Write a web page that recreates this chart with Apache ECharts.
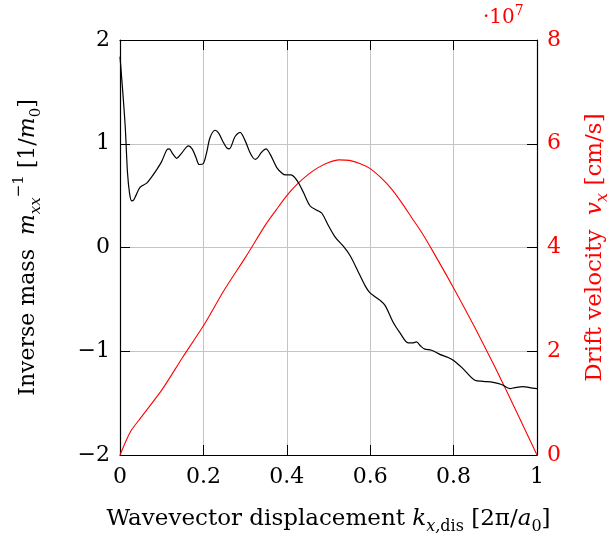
<!DOCTYPE html>
<html>
<head>
<meta charset="utf-8">
<script src="https://cdn.jsdelivr.net/npm/echarts@6/dist/echarts.min.js"></script>
<style>
  html, body { margin: 0; padding: 0; background: #fff; }
  #main { width: 614px; height: 536px; }
</style>
</head>
<body>
<div id="main"></div>
<script>
// wavevector displacement k_x,dis [2pi/a0] and inverse mass m_xx^-1 [1/m0]
const kMass = [0, 0.012, 0.018, 0.023, 0.028, 0.033, 0.038, 0.048, 0.064, 0.076, 0.088, 0.1, 0.112, 0.118, 0.127, 0.136, 0.148, 0.164, 0.173, 0.182, 0.19, 0.2, 0.208, 0.216, 0.228, 0.237, 0.247, 0.256, 0.262, 0.276, 0.288, 0.3, 0.31, 0.318, 0.325, 0.34, 0.35, 0.36, 0.376, 0.39, 0.398, 0.41, 0.42, 0.43, 0.44, 0.456, 0.472, 0.484, 0.5, 0.516, 0.536, 0.552, 0.572, 0.588, 0.598, 0.61, 0.624, 0.636, 0.655, 0.671, 0.691, 0.701, 0.711, 0.721, 0.731, 0.747, 0.767, 0.787, 0.8, 0.823, 0.851, 0.871, 0.895, 0.915, 0.935, 0.947, 0.967, 0.982, 1.0]
const inverseMass = [1.84, 1.2, 0.72, 0.52, 0.45, 0.46, 0.5, 0.58, 0.62, 0.68, 0.75, 0.83, 0.94, 0.95, 0.9, 0.86, 0.91, 0.98, 0.95, 0.87, 0.8, 0.81, 0.92, 1.06, 1.13, 1.1, 1.02, 0.96, 0.95, 1.07, 1.11, 1.03, 0.93, 0.87, 0.85, 0.92, 0.95, 0.9, 0.77, 0.71, 0.7, 0.7, 0.67, 0.61, 0.53, 0.4, 0.36, 0.33, 0.21, 0.1, 0.01, -0.08, -0.24, -0.37, -0.43, -0.47, -0.51, -0.56, -0.72, -0.82, -0.92, -0.92, -0.91, -0.95, -0.98, -0.99, -1.03, -1.06, -1.09, -1.17, -1.28, -1.29, -1.3, -1.32, -1.36, -1.35, -1.34, -1.35, -1.36]

// drift velocity v_x [cm/s]
const kVel = [0, 0.025, 0.05, 0.1, 0.15, 0.2, 0.25, 0.3, 0.35, 0.375, 0.4, 0.425, 0.45, 0.475, 0.5, 0.525, 0.55, 0.575, 0.6, 0.625, 0.65, 0.675, 0.7, 0.725, 0.75, 0.8, 0.85, 0.9, 0.95, 1.0]
const driftVelocity = [0, 0.45e7, 0.72e7, 1.25e7, 1.88e7, 2.49e7, 3.18e7, 3.8e7, 4.45e7, 4.73e7, 5.0e7, 5.22e7, 5.4e7, 5.54e7, 5.64e7, 5.69e7, 5.68e7, 5.62e7, 5.52e7, 5.35e7, 5.14e7, 4.87e7, 4.57e7, 4.27e7, 3.93e7, 3.22e7, 2.47e7, 1.68e7, 0.85e7, 0]

const massTicks = [-2, -1, 0, 1, 2]
const velTicks = [0, 2e7, 4e7, 6e7, 8e7]

const font = 'DejaVu Serif'
const minus = v => String(v).replace('-', '\u2212')

const chart = echarts.init(document.getElementById('main'))

const tickStyle = { show: true, inside: true, length: 10, lineStyle: { color: '#000', width: 1 } }

function richFor(color, size) {
  const s = Math.round(size * 0.7)
  return {
    n: { fontFamily: font, fontSize: size, color: color, lineHeight: 32 },
    i: { fontFamily: font, fontSize: size, fontStyle: 'italic', color: color, lineHeight: 32 },
    sub: { fontFamily: font, fontSize: s, fontStyle: 'italic', color: color, verticalAlign: 'bottom', lineHeight: s },
    subr: { fontFamily: font, fontSize: s, color: color, verticalAlign: 'bottom', lineHeight: s },
    sup: { fontFamily: font, fontSize: s, color: color, verticalAlign: 'top', lineHeight: s },
  }
}

const option = {
  animation: false,
  grid: { left: 120, right: 77, top: 40, height: 415, outerBoundsMode: 'none', containLabel: false },
  textStyle: { fontFamily: font },
  graphic: [
    {
      type: 'text',
      left: 483,
      top: 4,
      style: {
        text: '{n|\u00b710}{s|7}',
        rich: {
          n: { fontFamily: font, fontSize: 20, fill: '#ff0000', lineHeight: 28 },
          s: { fontFamily: font, fontSize: 14, fill: '#ff0000', verticalAlign: 'top', lineHeight: 14 },
        },
      },
    },
  ],
  xAxis: [
    {
      type: 'value',
      min: 0,
      max: 1,
      interval: 0.2,
      axisLine: { onZero: false, lineStyle: { color: '#000', width: 1.2 } },
      axisTick: tickStyle,
      axisLabel: { color: '#000', fontSize: 22, fontFamily: font, margin: 11 },
      splitLine: { show: true, lineStyle: { color: '#c4c4c4', width: 1 } },
      name: '{n|Wavevector displacement }{i|k}{sub|x,}{subr|dis}{n| [2\u03c0/}{i|a}{subr|0}{n|]}',
      nameLocation: 'middle',
      nameGap: 48,
      nameTextStyle: { rich: richFor('#000', 23) },
    },
    {
      type: 'value',
      position: 'top',
      min: 0,
      max: 1,
      interval: 0.2,
      axisLine: { onZero: false, lineStyle: { color: '#000', width: 1.2 } },
      axisTick: tickStyle,
      axisLabel: { show: false },
      splitLine: { show: false },
    },
  ],
  yAxis: [
    {
      type: 'value',
      min: -2,
      max: 2,
      interval: 1,
      position: 'left',
      axisLine: { show: true, onZero: false, lineStyle: { color: '#000', width: 1.2 } },
      axisTick: tickStyle,
      axisLabel: {
        color: '#000', fontSize: 22, fontFamily: font, margin: 10,
        formatter: v => massTicks.includes(v) ? minus(v) : '',
      },
      splitLine: { show: true, lineStyle: { color: '#c4c4c4', width: 1 } },
      name: '{n|Inverse mass  }{i|m}{sub|xx}{sup|\u22121}{n| [1/}{i|m}{subr|0}{n|]}',
      nameLocation: 'middle',
      nameRotate: 90,
      nameGap: 76,
      nameTextStyle: { rich: richFor('#000', 22) },
    },
    {
      type: 'value',
      min: 0,
      max: 8e7,
      interval: 2e7,
      position: 'right',
      axisLine: { show: true, onZero: false, lineStyle: { color: '#000', width: 1.2 } },
      axisTick: tickStyle,
      axisLabel: {
        color: '#ff0000', fontSize: 22, fontFamily: font, margin: 10,
        formatter: v => velTicks.includes(v) ? String(v / 1e7) : '',
      },
      splitLine: { show: false },
      name: '{n|Drift velocity  }{i|v}{sub|x}{n| [cm/s]}',
      nameLocation: 'middle',
      nameRotate: 90,
      nameGap: 42,
      nameTextStyle: { rich: richFor('#ff0000', 23) },
    },
  ],
  series: [
    {
      type: 'line',
      xAxisIndex: 0,
      yAxisIndex: 0,
      data: kMass.map((k, i) => [k, inverseMass[i]]),
      showSymbol: false,
      smooth: 0.3,
      lineStyle: { color: '#000', width: 1.2 },
      z: 3,
    },
    {
      type: 'line',
      xAxisIndex: 0,
      yAxisIndex: 1,
      data: kVel.map((k, i) => [k, driftVelocity[i]]),
      showSymbol: false,
      smooth: 0.25,
      lineStyle: { color: '#ff0000', width: 1.1 },
      z: 2,
    },
  ],
}

chart.setOption(option)
</script>
</body>
</html>
